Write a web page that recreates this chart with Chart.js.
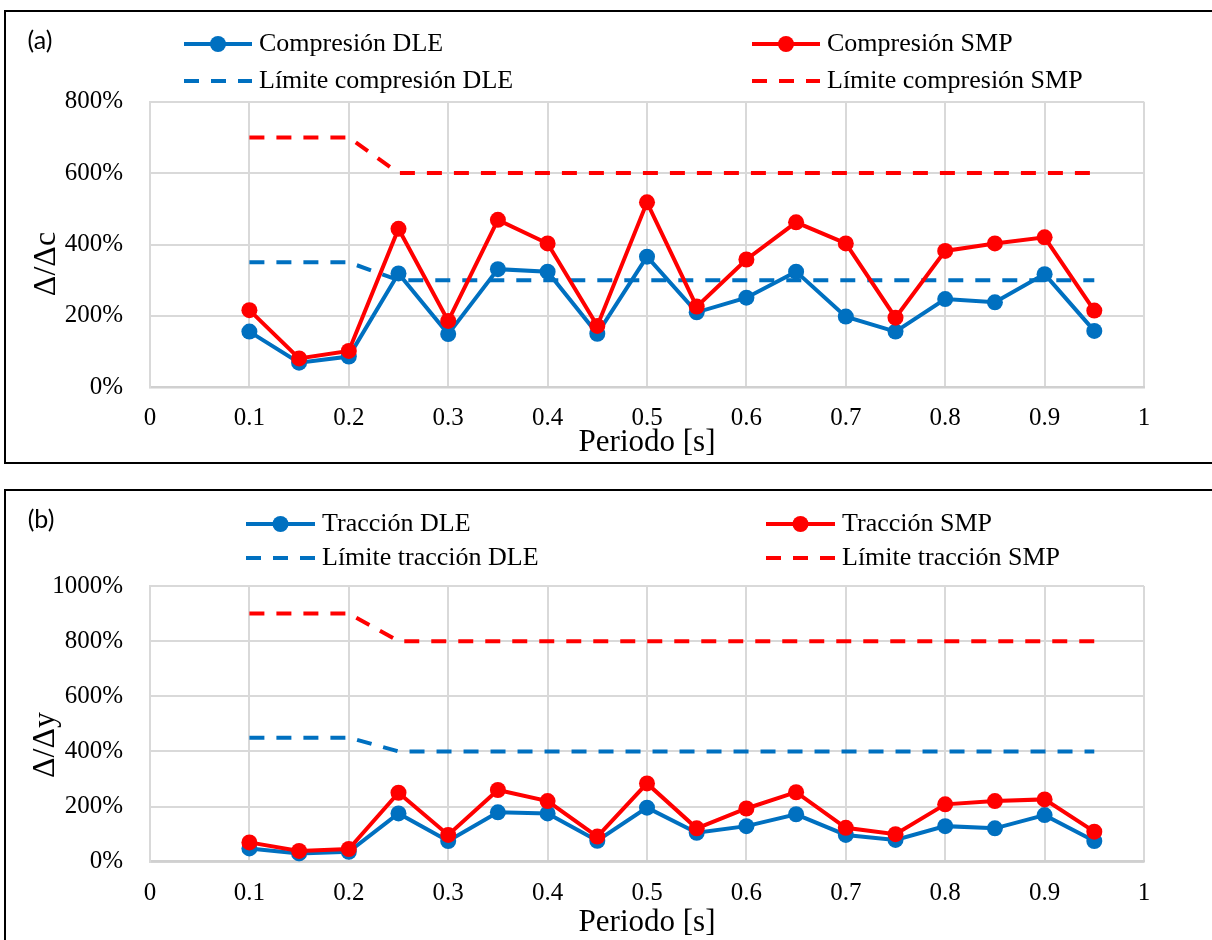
<!DOCTYPE html>
<html lang="es">
<head>
<meta charset="utf-8">
<title>Compresión y tracción vs periodo</title>
<script src="https://cdn.jsdelivr.net/npm/chart.js@4/dist/chart.umd.min.js"></script>
<style>
  html, body { margin: 0; padding: 0; background: #fff; overflow: hidden; }
  body { width: 1212px; height: 940px; position: relative; }
  .frame { position: absolute; left: 4px; width: 1230px; border: 2px solid #000; box-sizing: border-box; }
  #frameA { top: 10px; height: 454px; }
  #frameB { top: 489px; height: 470px; }
  canvas { position: absolute; left: 0; }
  #chartA { top: 0; }
  #chartB { top: 470px; }
</style>
</head>
<body>
<div class="frame" id="frameA"></div>
<div class="frame" id="frameB"></div>
<canvas id="chartA" width="1212" height="470"></canvas>
<canvas id="chartB" width="1212" height="470"></canvas>
<script>
// Periodo [s]
const periods = [0.10, 0.15, 0.20, 0.25, 0.30, 0.35, 0.40, 0.45, 0.50,
                 0.55, 0.60, 0.65, 0.70, 0.75, 0.80, 0.85, 0.90, 0.95];

// (a) Compresión, Δ/Δc en %
const compresionDLE = [156, 69, 86, 319, 149, 331, 324, 150, 366, 210, 251, 324, 198, 156, 247, 238, 317, 158];
const compresionSMP = [216, 81, 102, 444, 186, 469, 403, 172, 518, 226, 358, 462, 403, 195, 382, 403, 420, 215];
const limiteCompresionDLE = [350, 350, 350, 300, 300, 300, 300, 300, 300, 300, 300, 300, 300, 300, 300, 300, 300, 300];
const limiteCompresionSMP = [700, 700, 700, 600, 600, 600, 600, 600, 600, 600, 600, 600, 600, 600, 600, 600, 600, 600];

// (b) Tracción, Δ/Δy en %
const traccionDLE = [48, 30, 36, 175, 75, 179, 175, 76, 196, 105, 129, 172, 97, 79, 129, 121, 169, 75];
const traccionSMP = [70, 39, 46, 250, 97, 260, 220, 91, 284, 121, 193, 252, 123, 100, 208, 220, 226, 109];
const limiteTraccionDLE = [450, 450, 450, 400, 400, 400, 400, 400, 400, 400, 400, 400, 400, 400, 400, 400, 400, 400];
const limiteTraccionSMP = [900, 900, 900, 800, 800, 800, 800, 800, 800, 800, 800, 800, 800, 800, 800, 800, 800, 800];

const BLUE = '#0070C0';
const RED = '#FF0000';
const SERIF = '"Liberation Serif", "Times New Roman", serif';

const toPoints = values => values.map((v, i) => ({ x: periods[i], y: v }));

function seriesDataset(label, values, color, order) {
  return {
    label, data: toPoints(values), borderColor: color, backgroundColor: color,
    borderWidth: 4, pointRadius: 8, pointHoverRadius: 8,
    pointBackgroundColor: color, pointBorderColor: color, pointBorderWidth: 0,
    tension: 0, order
  };
}
function limitDataset(label, values, color, order) {
  return {
    label, data: toPoints(values), borderColor: color, backgroundColor: color,
    borderWidth: 4, borderDash: [15, 12], pointRadius: 0, pointHoverRadius: 0,
    tension: 0, order
  };
}

// Panel letter, rotated y title and the two-column legend
const panelDecor = {
  id: 'panelDecor',
  afterDraw(chart, args, o) {
    const ctx = chart.ctx;
    ctx.save();
    ctx.fillStyle = '#000';
    ctx.textBaseline = 'middle';
    ctx.textAlign = 'center';
    ctx.font = '25px Lato, "Open Sans", sans-serif';
    ctx.fillText(o.letter, o.letterX, o.letterY);

    ctx.save();
    ctx.translate(o.yTitleX, o.yTitleY);
    ctx.rotate(-Math.PI / 2);
    ctx.font = '32px ' + SERIF;
    ctx.fillText(o.yTitle, 0, 0);
    ctx.restore();

    ctx.textAlign = 'left';
    ctx.font = '26px ' + SERIF;
    chart.data.datasets.forEach((ds, i) => {
      const x0 = o.cols[i % 2];
      const y = o.rows[Math.floor(i / 2)];
      ctx.save();
      ctx.strokeStyle = ds.borderColor;
      ctx.lineWidth = ds.borderWidth;
      ctx.setLineDash(ds.borderDash || []);
      ctx.beginPath();
      ctx.moveTo(x0, y);
      ctx.lineTo(x0 + o.lineLen, y);
      ctx.stroke();
      ctx.setLineDash([]);
      if (ds.pointRadius > 0) {
        ctx.fillStyle = ds.borderColor;
        ctx.beginPath();
        ctx.arc(x0 + o.lineLen / 2, y, ds.pointRadius, 0, Math.PI * 2);
        ctx.fill();
      }
      ctx.restore();
      ctx.fillText(ds.label, x0 + o.lineLen + 7, y);
    });
    ctx.restore();
  }
};

function makeChart(canvasId, datasets, yMax, layout, decor) {
  return new Chart(document.getElementById(canvasId), {
    type: 'line',
    data: { datasets },
    plugins: [panelDecor],
    options: {
      responsive: false,
      animation: false,
      events: [],
      layout: { padding: { left: 0, right: 68, top: layout.top, bottom: layout.bottom } },
      plugins: {
        legend: { display: false },
        tooltip: { enabled: false },
        panelDecor: decor
      },
      scales: {
        x: {
          type: 'linear', min: 0, max: 1,
          afterFit: s => { s.height = layout.xHeight; },
          ticks: {
            stepSize: 0.1, padding: layout.tickPad, color: '#000',
            font: { family: SERIF, size: 25 },
            callback: v => String(Math.round(v * 10) / 10)
          },
          grid: { color: '#d9d9d9', lineWidth: 2, drawTicks: false },
          border: { color: '#d0d0d0', width: 2.5 },
          title: {
            display: true, text: 'Periodo [s]', color: '#000', padding: 0,
            font: { family: SERIF, size: 31, lineHeight: 1 }
          }
        },
        y: {
          min: 0, max: yMax,
          afterFit: s => { s.width = 150; },
          ticks: {
            stepSize: 200, padding: 27, color: '#000',
            font: { family: SERIF, size: 25 },
            callback: v => v + '%'
          },
          grid: { color: '#d9d9d9', lineWidth: 2, drawTicks: false },
          border: { color: '#d9d9d9', width: 2 }
        }
      }
    }
  });
}

makeChart('chartA', [
  seriesDataset('Compresión DLE', compresionDLE, BLUE, 2),
  seriesDataset('Compresión SMP', compresionSMP, RED, 1),
  limitDataset('Límite compresión DLE', limiteCompresionDLE, BLUE, 3),
  limitDataset('Límite compresión SMP', limiteCompresionSMP, RED, 4)
], 800,
{ top: 101.7, bottom: 11.5, xHeight: 71.2, tickPad: 16 },
{ letter: '(a)', letterX: 40, letterY: 41, yTitle: 'Δ/Δc', yTitleX: 47, yTitleY: 264,
  cols: [184, 752], rows: [44, 81], lineLen: 68 });

makeChart('chartB', [
  seriesDataset('Tracción DLE', traccionDLE, BLUE, 2),
  seriesDataset('Tracción SMP', traccionSMP, RED, 1),
  limitDataset('Límite tracción DLE', limiteTraccionDLE, BLUE, 3),
  limitDataset('Límite tracción SMP', limiteTraccionSMP, RED, 4)
], 1000,
{ top: 116, bottom: 1.5, xHeight: 76.8, tickPad: 16.3 },
{ letter: '(b)', letterX: 41, letterY: 50, yTitle: 'Δ/Δy', yTitleX: 46, yTitleY: 275,
  cols: [246, 766], rows: [54, 88], lineLen: 69 });
</script>
</body>
</html>
